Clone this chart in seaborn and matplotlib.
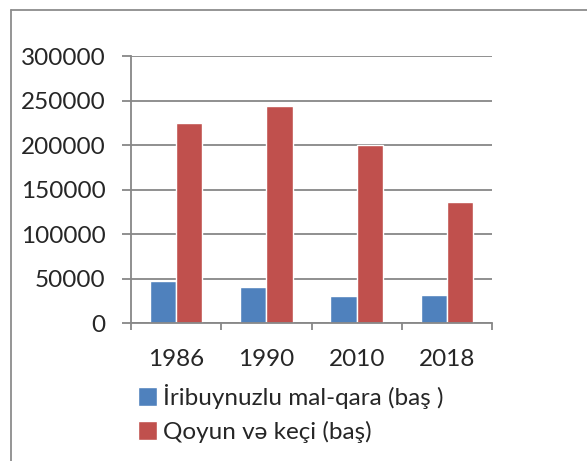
import matplotlib
matplotlib.use("Agg")
import matplotlib.pyplot as plt
import pandas as pd
import seaborn as sns
from matplotlib.lines import Line2D
from matplotlib.ticker import FixedLocator

years = ["1986", "1990", "2010", "2018"]
cattle = [46800, 40100, 30300, 31800]
sheep_goats = [224500, 243500, 200000, 136000]
series_names = ["İribuynuzlu mal-qara (baş )", "Qoyun və keçi (baş)"]
y_ticks = [0, 50000, 100000, 150000, 200000, 250000, 300000]

sns.set_style("white")
plt.rcParams["font.family"] = ["Lato", "DejaVu Sans"]

W, H = 587, 461
FS = 17.5


def main() -> None:
    df = pd.DataFrame({
        "year": years * 2,
        "value": cattle + sheep_goats,
        "series": [series_names[0]] * 4 + [series_names[1]] * 4,
    })

    fig = plt.figure(figsize=(W / 100, H / 100), dpi=100)
    ax = fig.add_axes([131 / W, (H - 323) / H, (492 - 131) / W, (323 - 56) / H])

    sns.barplot(data=df, x="year", y="value", hue="series", order=years,
                hue_order=series_names, palette=["#4F81BD", "#C0504D"],
                width=0.58, gap=0, saturation=1, ax=ax, legend=True)
    handles, labels = ax.get_legend_handles_labels()
    ax.get_legend().remove()

    ax.set_xlim(-0.5, len(years) - 0.5)
    ax.set_ylim(0, 300000)
    ax.set_yticks(y_ticks)
    ax.set_yticklabels([str(t) for t in y_ticks], fontsize=FS)
    ax.set_xlabel("")
    ax.set_ylabel("")

    grid_col = "#878787"
    ax.yaxis.grid(True, color=grid_col, linewidth=1.3)
    ax.set_axisbelow(True)
    for s in ["top", "right"]:
        ax.spines[s].set_visible(False)
    for s in ["left", "bottom"]:
        ax.spines[s].set_color(grid_col)
        ax.spines[s].set_linewidth(1.3)

    ax.tick_params(axis="y", direction="out", length=6.5, width=1.3,
                   color=grid_col, pad=12, left=True)
    ax.tick_params(axis="x", which="major", length=0, pad=19, labelsize=FS)
    ax.xaxis.set_minor_locator(FixedLocator([i - 0.5 for i in range(len(years) + 1)]))
    ax.tick_params(axis="x", which="minor", direction="out", length=5,
                   width=1.3, color=grid_col, bottom=True)

    fig.legend(handles, labels, loc="upper left",
               bbox_to_anchor=(128 / W, 1 - 374 / H), frameon=False,
               fontsize=FS, handlelength=0.8, handleheight=0.8,
               handletextpad=0.25, labelspacing=0.5, borderaxespad=0)

    # chart border (top and left edges visible)
    fig.add_artist(Line2D([11 / W, 1], [1 - 10 / H, 1 - 10 / H],
                          transform=fig.transFigure, color="#8c8c8c", linewidth=1.3))
    fig.add_artist(Line2D([11 / W, 11 / W], [0, 1 - 10 / H],
                          transform=fig.transFigure, color="#8c8c8c", linewidth=1.3))

    fig.savefig("out.png", dpi=100)


if __name__ == "__main__":
    main()
